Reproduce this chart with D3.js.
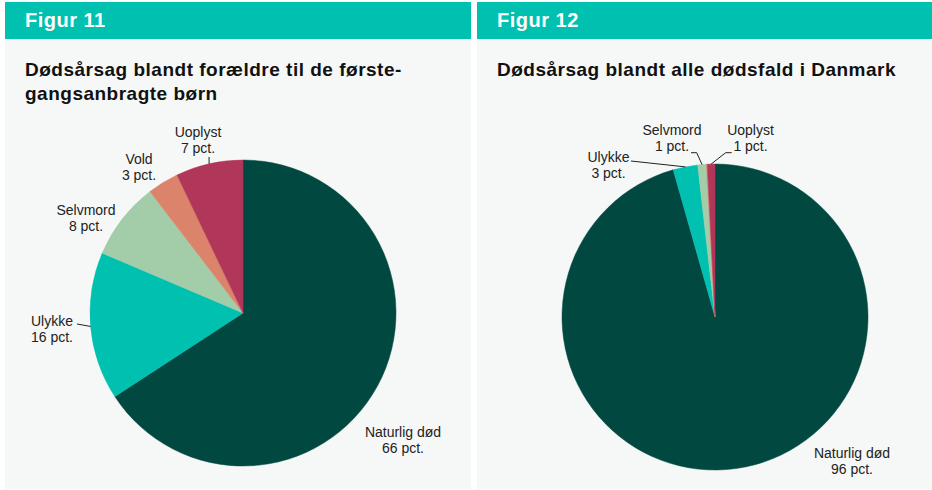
<!DOCTYPE html>
<html>
<head>
<meta charset="utf-8">
<script src="https://cdn.jsdelivr.net/npm/d3@7"></script>
<style>
  body { margin: 0; background: #fff; }
  svg { display: block; font-family: "Liberation Sans", Arial, Helvetica, sans-serif; }
  .hdr { fill: #fff; font-weight: bold; font-size: 20px; letter-spacing: 0.5px; }
  .ttl { fill: #111; font-weight: bold; font-size: 19px; letter-spacing: 0.5px; }
  .lbl { fill: #222; font-size: 14px; }
  .leader { fill: none; stroke: #222; stroke-width: 1; }
</style>
</head>
<body>
<div id="chart"></div>
<script>
// categories in drawing order (clockwise from 12 o'clock)
const categories = ['Naturlig død', 'Ulykke', 'Selvmord', 'Vold', 'Uoplyst'];
const colors = ['#004840', '#00c0b0', '#a3cca8', '#dc836b', '#b0365a'];

// Figur 11: forældre til de førstegangsanbragte børn (pct.)
const valuesFig11 = [65.8, 15.6, 8.2, 3.3, 7.1];
// Figur 12: alle dødsfald i Danmark (pct.)
const valuesFig12 = [95.6, 2.6, 0.9, 0.1, 0.8];

const figureNames = ['Figur 11', 'Figur 12'];
const titles = [
  ['Dødsårsag blandt forældre til de første-', 'gangsanbragte børn'],
  ['Dødsårsag blandt alle dødsfald i Danmark']
];

const width = 932;
const height = 490;
const radius = 153;

// label placement per panel (offsets from the pie centre), leader lines where used
const panels = [
  {
    x: 5, w: 466, cx: 243, cy: 313, values: valuesFig11,
    labels: {
      'Naturlig død': { at: [160, 127] },
      'Ulykke': { at: [-191, 15.5], leader: [[-166, 11]] },
      'Selvmord': { at: [-157, -95] },
      'Vold': { at: [-104, -146] },
      'Uoplyst': { at: [-45, -173], leader: [[-34, -156]] }
    }
  },
  {
    x: 477, w: 455, cx: 715, cy: 317, values: valuesFig12,
    labels: {
      'Naturlig død': { at: [137, 144] },
      'Ulykke': { at: [-106.5, -152.3], leader: [[-84, -156]] },
      'Selvmord': { at: [-43, -179], leader: [[-24, -164.3], [-18.3, -164.3]] },
      'Uoplyst': { at: [35.5, -179], leader: [[16.7, -164.3], [10.7, -164.3]] }
    }
  }
];

const svg = d3.select('#chart')
  .append('svg')
  .attr('width', width)
  .attr('height', height);

const pie = d3.pie().sort(null).value((d) => d.value);
const arc = d3.arc().innerRadius(0).outerRadius(radius);
const edge = d3.arc().innerRadius(radius).outerRadius(radius);

panels.forEach((p, i) => {
  const g = svg.append('g').attr('class', 'panel');

  g.append('rect')
    .attr('x', p.x).attr('y', 2)
    .attr('width', p.w).attr('height', 487)
    .attr('fill', '#f6f8f8');

  g.append('rect')
    .attr('x', p.x).attr('y', 2)
    .attr('width', p.w).attr('height', 37)
    .attr('fill', '#00c0b0');

  g.append('text')
    .attr('class', 'hdr')
    .attr('x', p.x + 20).attr('y', 27)
    .text(figureNames[i]);

  g.selectAll('text.ttl')
    .data(titles[i])
    .join('text')
    .attr('class', 'ttl')
    .attr('x', p.x + 20)
    .attr('y', (d, j) => 76 + j * 24)
    .text((d) => d);

  const data = categories.map((c, j) => ({ name: c, value: p.values[j], color: colors[j] }));
  const arcs = pie(data);

  const plot = g.append('g')
    .attr('transform', `translate(${p.cx},${p.cy})`);

  plot.selectAll('path.slice')
    .data(arcs)
    .join('path')
    .attr('class', 'slice')
    .attr('d', arc)
    .attr('fill', (d) => d.data.color)
    .attr('stroke', (d) => d.data.color)
    .attr('stroke-width', 0.5);

  const labelled = arcs.filter((d) => p.labels[d.data.name]);

  plot.selectAll('path.leader')
    .data(labelled.filter((d) => p.labels[d.data.name].leader))
    .join('path')
    .attr('class', 'leader')
    .attr('d', (d) => d3.line()([...p.labels[d.data.name].leader, edge.centroid(d)]));

  const lbl = plot.selectAll('g.lbl')
    .data(labelled)
    .join('g')
    .attr('class', 'lbl-group')
    .attr('transform', (d) => `translate(${p.labels[d.data.name].at})`);

  lbl.append('text')
    .attr('class', 'lbl')
    .attr('text-anchor', 'middle')
    .attr('y', -3)
    .text((d) => d.data.name);

  lbl.append('text')
    .attr('class', 'lbl')
    .attr('text-anchor', 'middle')
    .attr('y', 13)
    .text((d) => `${Math.round(d.data.value)} pct.`);
});
</script>
</body>
</html>
